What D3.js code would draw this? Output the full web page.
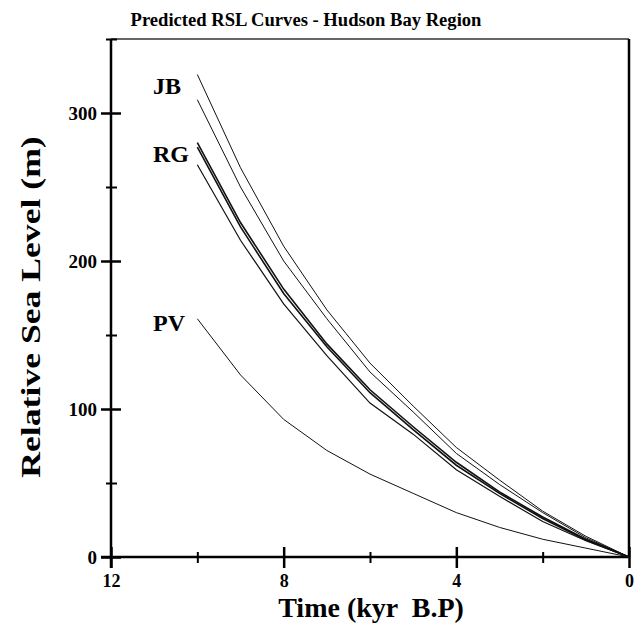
<!DOCTYPE html>
<html>
<head>
<meta charset="utf-8">
<script src="https://cdn.jsdelivr.net/npm/d3@7"></script>
<style>
  body { margin: 0; background: #fff; }
  text { font-family: "Liberation Serif", "DejaVu Serif", serif; font-weight: bold; fill: #000; }
</style>
</head>
<body>
<div id="chart"></div>
<script>
// time in kyr B.P.
var times = [10, 9, 8, 7, 6, 5, 4, 3, 2, 1, 0];

// predicted relative sea level (m) for each curve
var curveJB  = [326, 263, 210, 167, 131, 102, 74, 52, 31, 14, 0];
var curveB   = [309, 250, 200, 161, 125, 98, 70, 49, 30, 13, 0];
var curveRG1 = [280, 226, 181, 144, 113, 88, 64, 44, 27, 12, 0];
var curveRG2 = [277, 223, 178, 142, 111, 86, 62, 43, 26, 11.5, 0];
var curveE   = [265, 214, 171, 136, 104, 83, 59, 41, 24, 11, 0];
var curvePV  = [161, 123, 93, 72, 56, 43, 30, 20, 12, 6, 0];

var curves = [
  {values: curveJB, w: 1},
  {values: curveB, w: 1},
  {values: curveRG1, w: 1.6},
  {values: curveRG2, w: 1.6},
  {values: curveE, w: 1.2},
  {values: curvePV, w: 1}
];

// curve labels, placed at the left of the curves (baseline in metres)
var labelNames = ["JB", "RG", "PV"];
var labelLevels = [313, 267, 153];

var xMajor = [12, 8, 4, 0], xMinor = [10, 6, 2];
var yMajor = [0, 100, 200, 300], yMinor = [50, 150, 250, 350];

var width = 641, height = 637;

var svg = d3.select("#chart").append("svg")
    .attr("width", width)
    .attr("height", height);

var x = d3.scaleLinear().domain([12, 0]).range([111, 629]);
var y = d3.scaleLinear().domain([0, 350]).range([557, 39]);

// frame top and right
svg.append("line")
  .attr("x1", x(12)).attr("x2", x(0))
  .attr("y1", y(350)).attr("y2", y(350))
  .attr("stroke", "#333").attr("stroke-width", 1.5);
svg.append("line")
  .attr("x1", x(0)).attr("x2", x(0))
  .attr("y1", y(350)).attr("y2", y(0))
  .attr("stroke", "#000").attr("stroke-width", 2.5);

// x axis, ticks cross the line
var gx = svg.append("g")
  .attr("transform", "translate(0," + y(0) + ")")
  .call(d3.axisBottom(x).tickValues(xMajor).tickSize(11).tickPadding(6).tickFormat(d3.format("d")));
gx.select(".domain").remove();
gx.selectAll(".tick line").attr("y1", -10).attr("stroke-width", 2.5);
gx.selectAll(".tick text").style("font-size", "18px");

var gxm = svg.append("g")
  .attr("transform", "translate(0," + y(0) + ")")
  .call(d3.axisBottom(x).tickValues(xMinor).tickSize(6).tickFormat(""));
gxm.select(".domain").remove();
gxm.selectAll(".tick line").attr("y1", -5).attr("stroke-width", 2);

svg.append("line")
  .attr("x1", 101).attr("x2", x(0))
  .attr("y1", y(0)).attr("y2", y(0))
  .attr("stroke", "#000").attr("stroke-width", 2.5);

// y axis
var gy = svg.append("g")
  .attr("transform", "translate(" + x(12) + ",0)")
  .call(d3.axisLeft(y).tickValues(yMajor).tickSize(10).tickPadding(4).tickFormat(d3.format("d")));
gy.select(".domain").remove();
gy.selectAll(".tick line").attr("x1", 10).attr("stroke-width", 2.5);
gy.selectAll(".tick text").style("font-size", "19px");

var gym = svg.append("g")
  .attr("transform", "translate(" + x(12) + ",0)")
  .call(d3.axisLeft(y).tickValues(yMinor).tickSize(5).tickFormat(""));
gym.select(".domain").remove();
gym.selectAll(".tick line").attr("x1", 6).attr("stroke-width", 2);

svg.append("line")
  .attr("x1", x(12)).attr("x2", x(12))
  .attr("y1", y(350)).attr("y2", y(0) + 11)
  .attr("stroke", "#000").attr("stroke-width", 2.5);

// curves
var line = d3.line()
  .x(function(d, i) { return x(times[i]); })
  .y(function(d) { return y(d); });

svg.append("g")
  .selectAll("path")
  .data(curves)
  .enter().append("path")
  .attr("d", function(d) { return line(d.values); })
  .attr("fill", "none")
  .attr("stroke", "#111")
  .attr("stroke-width", function(d) { return d.w; });

// curve labels
svg.append("g")
  .selectAll("text")
  .data(labelNames)
  .enter().append("text")
  .attr("x", 153)
  .attr("y", function(d, i) { return y(labelLevels[i]); })
  .style("font-size", "24px")
  .text(function(d) { return d; });

// titles
svg.append("text")
  .attr("x", 306)
  .attr("y", 26)
  .attr("text-anchor", "middle")
  .style("font-size", "18.6px")
  .text("Predicted RSL Curves - Hudson Bay Region");

svg.append("text")
  .attr("x", 371)
  .attr("y", 617)
  .attr("text-anchor", "middle")
  .style("font-size", "28px")
  .attr("xml:space", "preserve")
  .text("Time (kyr  B.P)");

// y title is stretched along its length in the original
svg.append("text")
  .attr("transform", "translate(40,307) rotate(-90) scale(1.32,1)")
  .attr("text-anchor", "middle")
  .style("font-size", "27px")
  .text("Relative Sea Level (m)");
</script>
</body>
</html>
